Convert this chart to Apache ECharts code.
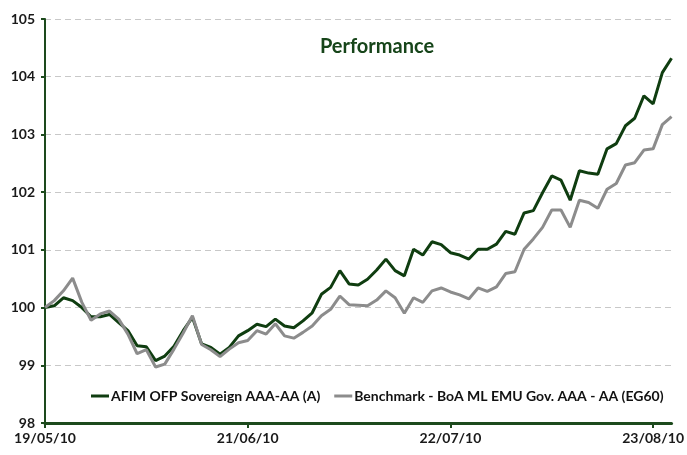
<!DOCTYPE html>
<html>
<head>
<meta charset="utf-8">
<script src="https://cdn.jsdelivr.net/npm/echarts@6/dist/echarts.min.js"></script>
<style>html,body{margin:0;padding:0;background:#fff}#c{width:687px;height:455px}</style>
</head>
<body>
<div id="c"></div>
<script>
var dates = ['19/05/10','20/05/10','21/05/10','25/05/10','26/05/10','27/05/10','28/05/10','31/05/10',
'01/06/10','02/06/10','03/06/10','04/06/10','07/06/10','08/06/10','09/06/10','10/06/10','11/06/10',
'14/06/10','15/06/10','16/06/10','17/06/10','18/06/10','21/06/10','22/06/10','23/06/10','24/06/10',
'25/06/10','28/06/10','29/06/10','30/06/10','01/07/10','02/07/10','06/07/10','07/07/10','08/07/10',
'09/07/10','12/07/10','13/07/10','14/07/10','15/07/10','16/07/10','19/07/10','20/07/10','21/07/10',
'22/07/10','23/07/10','26/07/10','27/07/10','28/07/10','29/07/10','30/07/10','02/08/10','03/08/10',
'04/08/10','05/08/10','06/08/10','09/08/10','10/08/10','11/08/10','12/08/10','13/08/10','16/08/10',
'17/08/10','18/08/10','19/08/10','20/08/10','23/08/10','24/08/10','25/08/10'];

var tickLabels = ['19/05/10','21/06/10','22/07/10','23/08/10'];

var fund = [100.00,100.03,100.17,100.12,100.00,99.84,99.84,99.88,99.74,99.60,
99.34,99.32,99.08,99.16,99.33,99.60,99.83,99.37,99.31,99.19,
99.31,99.51,99.60,99.71,99.67,99.80,99.68,99.65,99.77,99.91,
100.23,100.35,100.64,100.41,100.39,100.49,100.65,100.84,100.64,100.55,
101.01,100.91,101.14,101.09,100.95,100.91,100.84,101.01,101.01,101.10,
101.32,101.27,101.64,101.68,101.99,102.28,102.21,101.86,102.37,102.33,
102.31,102.75,102.84,103.15,103.28,103.67,103.53,104.07,104.32];

var bench = [100.00,100.12,100.29,100.51,100.09,99.78,99.89,99.94,99.80,99.54,
99.20,99.27,98.97,99.02,99.28,99.56,99.86,99.36,99.27,99.15,
99.28,99.39,99.43,99.60,99.54,99.72,99.51,99.47,99.57,99.68,
99.86,99.97,100.20,100.05,100.04,100.03,100.13,100.29,100.17,99.90,
100.17,100.09,100.29,100.34,100.27,100.22,100.15,100.34,100.28,100.36,
100.59,100.62,101.01,101.19,101.39,101.69,101.69,101.39,101.86,101.82,
101.72,102.05,102.15,102.47,102.51,102.73,102.75,103.17,103.31];

var seriesNames = ['AFIM OFP Sovereign AAA-AA (A)', 'Benchmark - BoA ML EMU Gov. AAA - AA (EG60)'];

var chart = echarts.init(document.getElementById('c'), null, {renderer: 'canvas'});
var font = 'Lato, "Open Sans", sans-serif';
chart.setOption({
  animation: false,
  backgroundColor: '#ffffff',
  title: {
    text: 'Performance',
    left: 372, top: 32, textAlign: 'center',
    textStyle: {fontFamily: font, fontSize: 20, fontWeight: 'bold', color: '#17451a'}
  },
  legend: {
    left: 86, top: 384,
    itemWidth: 18, itemHeight: 3, itemGap: 14,
    icon: 'rect',
    textStyle: {fontFamily: font, fontSize: 14, fontWeight: 'bold', color: '#111', padding: [0,0,0,-3]},
    data: seriesNames
  },
  grid: {left: 45, right: 12, top: 19, bottom: 32, containLabel: false},
  xAxis: {
    type: 'category',
    data: dates,
    boundaryGap: false,
    axisLine: {lineStyle: {color: '#1d4a1d', width: 3}},
    axisTick: {show: true, interval: 21, length: 5, lineStyle: {color: '#1d4a1d', width: 2}},
    axisLabel: {
      interval: 21, margin: 8,
      fontFamily: font, fontSize: 14, fontWeight: 'bold', color: '#1a1a1a',
      formatter: function (v) { return tickLabels.indexOf(v) >= 0 ? v : ''; }
    },
    splitLine: {show: false}
  },
  yAxis: {
    type: 'value',
    min: 98, max: 105, interval: 1,
    axisLine: {show: true, lineStyle: {color: '#1d4a1d', width: 2}},
    axisTick: {show: true, length: 4, lineStyle: {color: '#1d4a1d', width: 2}},
    axisLabel: {margin: 10, fontFamily: font, fontSize: 14, fontWeight: 'bold', color: '#1a1a1a'},
    splitLine: {show: true, lineStyle: {color: '#c8c8c8', type: [6, 4], width: 1}}
  },
  series: [
    {
      name: seriesNames[0], type: 'line', data: fund,
      showSymbol: false, symbol: 'none',
      lineStyle: {color: '#0f3d10', width: 3},
      itemStyle: {color: '#0f3d10'}
    },
    {
      name: seriesNames[1], type: 'line', data: bench,
      showSymbol: false, symbol: 'none',
      lineStyle: {color: '#8c8c8c', width: 3},
      itemStyle: {color: '#8c8c8c'}
    }
  ]
});
</script>
</body>
</html>
